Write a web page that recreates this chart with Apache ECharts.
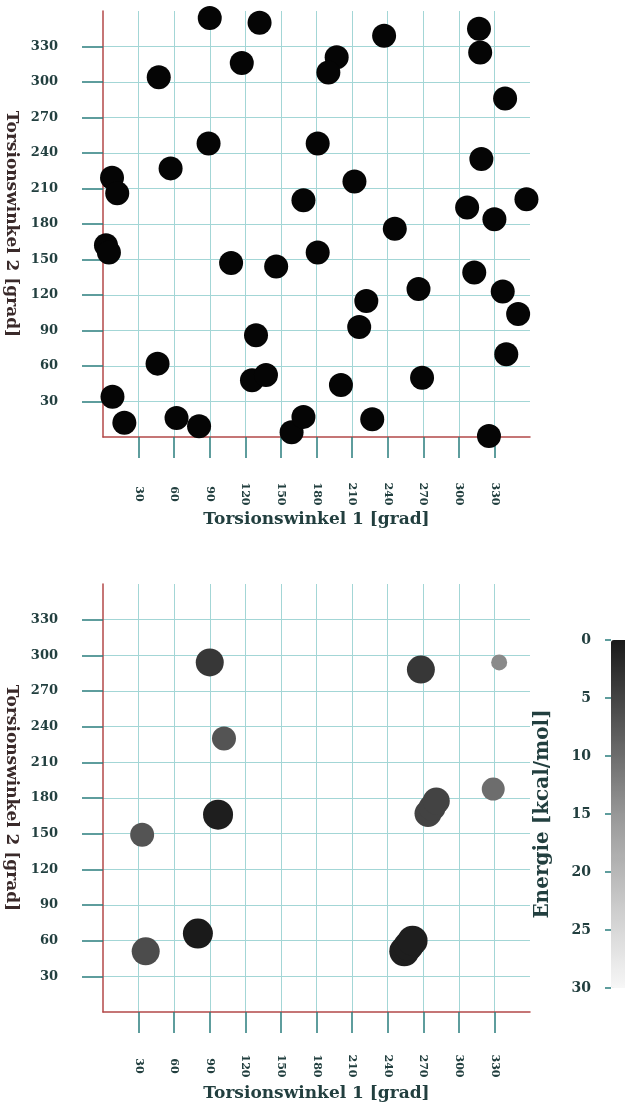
<!DOCTYPE html>
<html>
<head>
<meta charset="utf-8">
<script src="https://cdn.jsdelivr.net/npm/echarts@6/dist/echarts.min.js"></script>
<style>
html,body{margin:0;padding:0;background:#fff;}
#chart{width:625px;height:1108px;}
</style>
</head>
<body>
<div id="chart"></div>
<script>
// ---- data (degrees) ----
var topX = [90, 132, 47, 117, 197, 190, 237, 317, 318, 339, 89, 181, 57, 319, 7.6, 12, 212, 169, 307, 330, 357, 246, 2.5, 5, 108, 146, 181, 313, 337, 266, 222, 350, 216, 129, 340, 46, 125.6, 137.4, 200.6, 227, 269, 8, 18, 62, 81, 159, 169, 325.4];
var topY = [354, 350, 304, 316, 321, 308, 339, 345, 325, 286, 248, 248, 227, 235, 219, 206, 216, 200, 194, 184, 201, 176, 162, 156, 147, 144, 156, 139, 123, 125, 115, 104, 93, 86, 70, 62, 48, 52.4, 44, 15, 50, 34, 12, 16, 9, 4, 17, 0.8];

var botX = [90, 102, 97, 33, 36, 80, 268, 334, 329, 274, 277.5, 281, 254, 257.5, 261];
var botY = [294, 230, 166, 149, 51, 66, 288, 294, 187.5, 167, 172, 177.5, 51, 55.5, 60];
var botEnergy = [3.5, 7, 0.5, 7, 6, 0, 3.5, 13.5, 10, 5, 5, 5, 0.5, 0.5, 0.5];
var botSize = [28, 24, 30, 24, 28, 30, 28, 16, 23, 27, 27, 27, 30, 30, 30];

var angleTicks = [0, 30, 60, 90, 120, 150, 180, 210, 240, 270, 300, 330, 360];
var energyTicks = [0, 5, 10, 15, 20, 25, 30];

var xTitle = 'Torsionswinkel 1 [grad]';
var yTitle = 'Torsionswinkel 2 [grad]';
var cTitle = 'Energie [kcal/mol]';

// ---- build ----
var FONT = 'DejaVu Serif';
var TXT = '#223f3f';
var shadowTxt = {textShadowColor: 'rgba(230,80,80,0.45)', textShadowOffsetX: -1, textShadowOffsetY: 0, textShadowBlur: 0};

function angleXAxis(gi, margin, gap) {
  return {
    type: 'value', gridIndex: gi, min: angleTicks[0], max: angleTicks[angleTicks.length - 1],
    interval: angleTicks[1] - angleTicks[0],
    axisLine: {show: true, onZero: false, lineStyle: {color: '#b34848', width: 1.5}},
    axisTick: {show: true, length: 21, lineStyle: {color: '#2a7d7d', width: 1.5}},
    axisLabel: Object.assign({show: true, rotate: -90, align: 'center', verticalAlign: 'middle', margin: margin,
      fontFamily: FONT, fontWeight: 'bold', fontSize: 11, color: TXT,
      showMinLabel: false, showMaxLabel: false}, shadowTxt),
    splitLine: {show: true, showMinLine: false, showMaxLine: false, lineStyle: {color: '#a3d6d6', width: 1}},
    name: xTitle, nameLocation: 'middle', nameGap: gap,
    nameTextStyle: Object.assign({fontFamily: FONT, fontWeight: 'bold', fontSize: 17, color: TXT}, shadowTxt)
  };
}
function angleYAxis(gi) {
  return {
    type: 'value', gridIndex: gi, min: angleTicks[0], max: angleTicks[angleTicks.length - 1],
    interval: angleTicks[1] - angleTicks[0],
    axisLine: {show: true, onZero: false, lineStyle: {color: '#b34848', width: 1.5}},
    axisTick: {show: true, length: 21, lineStyle: {color: '#2a7d7d', width: 1.5}},
    axisLabel: Object.assign({show: true, margin: 45, fontFamily: FONT, fontWeight: 'bold', fontSize: 13, color: TXT,
      showMinLabel: false, showMaxLabel: false}, shadowTxt),
    splitLine: {show: true, showMinLine: false, showMaxLine: false, lineStyle: {color: '#a3d6d6', width: 1}},
    name: yTitle, nameLocation: 'middle', nameRotate: -90, nameGap: 74,
    nameTextStyle: Object.assign({fontFamily: FONT, fontWeight: 'bold', fontSize: 17, color: '#3a2a2a'}, shadowTxt)
  };
}

var topData = topX.map(function (x, i) { return [x, topY[i]]; });
var botData = botX.map(function (x, i) { return [x, botY[i], botEnergy[i], botSize[i]]; });

var option = {
  backgroundColor: '#ffffff',
  animation: false,
  grid: [
    {left: 103, top: 11, width: 427, height: 426, containLabel: false, outerBoundsMode: 'none'},
    {left: 103, top: 584, width: 427, height: 428, containLabel: false, outerBoundsMode: 'none'},
    {left: 611, top: 640, width: 16, height: 348, containLabel: false, outerBoundsMode: 'none'}
  ],
  xAxis: [
    angleXAxis(0, 57, 74),
    angleXAxis(1, 54, 73),
    {type: 'value', gridIndex: 2, show: false, min: 0, max: 1}
  ],
  yAxis: [
    angleYAxis(0),
    angleYAxis(1),
    {
      type: 'value', gridIndex: 2, min: energyTicks[0], max: energyTicks[energyTicks.length - 1],
      interval: energyTicks[1] - energyTicks[0], inverse: true, position: 'left',
      axisLine: {show: false},
      axisTick: {show: true, length: 6, lineStyle: {color: '#2a7d7d', width: 1.5}},
      axisLabel: Object.assign({margin: 20, fontFamily: FONT, fontWeight: 'bold', fontSize: 14, color: TXT}, shadowTxt),
      splitLine: {show: false},
      name: cTitle, nameLocation: 'middle', nameRotate: 90, nameGap: 58,
      nameTextStyle: Object.assign({fontFamily: FONT, fontWeight: 'bold', fontSize: 20, color: TXT}, shadowTxt)
    }
  ],
  visualMap: [{
    type: 'continuous', show: true, min: energyTicks[0], max: energyTicks[energyTicks.length - 1],
    dimension: 2, seriesIndex: 1, inverse: true, orient: 'vertical',
    left: 611, top: 640, itemWidth: 16, itemHeight: 348, padding: 0,
    calculable: false, realtime: false, hoverLink: false,
    inRange: {color: ['#1a1a1a', '#585858', '#979797', '#c8c8c8', '#f7f7f7']}
  }],
  series: [
    {
      type: 'scatter', xAxisIndex: 0, yAxisIndex: 0, data: topData,
      symbol: 'circle', symbolSize: 24,
      itemStyle: {color: '#050505', opacity: 1},
      silent: true
    },
    {
      type: 'scatter', xAxisIndex: 1, yAxisIndex: 1, data: botData,
      symbol: 'circle', symbolSize: function (d) { return d[3]; },
      itemStyle: {opacity: 1},
      silent: true
    }
  ]
};

var chart = echarts.init(document.getElementById('chart'), null, {renderer: 'canvas'});
chart.setOption(option);
</script>
</body>
</html>
